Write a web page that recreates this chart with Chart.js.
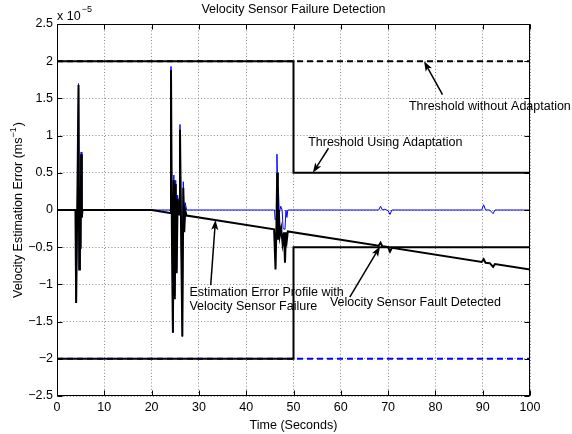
<!DOCTYPE html>
<html><head><meta charset="utf-8">
<script src="https://cdn.jsdelivr.net/npm/chart.js@4/dist/chart.umd.min.js"></script>
<style>html,body{margin:0;padding:0;background:#fff;}canvas{display:block;}</style>
</head><body>
<canvas id="c" width="572" height="434"></canvas>
<script>
const FONT = "'Liberation Sans', Arial, Helvetica, sans-serif";

// ---- data (values in units of 1e-5 m/s) ----
const xTicks = [0,10,20,30,40,50,60,70,80,90,100];
const yTicks = [-2.5,-2,-1.5,-1,-0.5,0,0.5,1,1.5,2,2.5];
const yTickLabels = ['\u22122.5','\u22122','\u22121.5','\u22121','\u22120.5','0','0.5','1','1.5','2','2.5'];

// estimation error profile (no failure) - blue
const timeNoFail = [0,3.9,4.05,4.3,4.55,4.7,4.85,5.0,5.1,5.25,5.4,
  23.9,24.1,24.3,24.5,24.7,24.9,25.1,25.3,25.5,25.8,26.0,26.3,26.5,26.7,26.9,27.1,27.4,
  46.0,46.1,46.4,46.5,46.7,46.8,47.0,47.3,47.6,47.8,48.2,48.4,48.6,48.8,
  68.0,68.4,68.8,69.3,70.0,70.4,70.8,
  89.8,90.2,90.6,91.5,92.2,92.6,100];
const errNoFail = [0,0,-1.25,0.1,1.7,-0.8,0.3,-0.52,0.78,-0.1,0,
  0,1.93,-0.3,-1.65,0.47,-1.15,0.4,-0.8,0.2,0,1.15,-0.6,-1.7,0.38,-0.25,0.1,0,
  0,-0.13,-0.13,0.75,0.1,0.3,-0.05,0.05,0,-0.25,-0.26,0,-0.1,0,
  0,0.05,0,0.01,-0.01,-0.06,0,
  0,0.07,0,0,-0.05,0,0];

// estimation error profile with velocity sensor failure - black
const timeFail = [0,3.9,4.05,4.3,4.55,4.7,4.85,5.0,5.1,5.25,5.4,
  20,23.9,24.1,24.3,24.5,24.7,24.9,25.1,25.3,25.5,25.8,26.0,26.3,26.5,26.7,26.9,27.1,27.4,
  45.9,46.2,46.4,46.55,46.7,46.9,47.1,47.4,47.7,48.0,48.2,48.4,48.6,48.8,
  68.0,68.4,68.8,69.3,70.0,70.4,70.8,
  89.8,90.2,90.6,91.5,92.2,92.6,100];
const errFail = [0,0,-1.25,0.1,1.68,-0.8,0.3,-0.52,0.75,-0.1,0,
  0,-0.039,1.88,-0.35,-1.65,0.4,-1.2,0.35,-0.85,0.15,-0.06,1.08,-0.65,-1.7,0.3,-0.3,0,-0.074,
  -0.259,-0.8,-0.2,0.5,-0.4,0,-0.35,-0.25,-0.45,-0.3,-0.71,-0.3,-0.4,-0.288,
  -0.48,-0.44,-0.49,-0.49,-0.5,-0.56,-0.508,
  -0.698,-0.66,-0.71,-0.715,-0.765,-0.726,-0.8];

// thresholds
const thrAdaptTime = [0,50,50,100];
const thrAdaptUpper = [2,2,0.5,0.5];
const thrAdaptLower = [-2,-2,-0.5,-0.5];
const thrFixedTime = [0,100];
const thrFixedUpper = [2,2];
const thrFixedLower = [-2,-2];

// annotations (data coordinates)
const annotations = [
  {lines:['Threshold without Adaptation'], text:[74.4,1.39], tail:[81.5,1.55], head:[77.6,2.0]},
  {lines:['Threshold Using Adaptation'], text:[53.1,0.91], tail:[57.4,0.83], head:[54.1,0.5]},
  {lines:['Estimation Error Profile with','Velocity Sensor Failure'], text:[28.0,-1.11], tail:[32.5,-1.01], head:[33.5,-0.135]},
  {lines:['Velocity Sensor Fault Detected'], text:[57.7,-1.245], tail:[61.9,-1.17], head:[68.3,-0.49]}
];

const pts = (xs, ys) => xs.map((x,i)=>({x:x, y:ys[i]}));
const lineDs = (xs, ys, color, width, dash) => ({
  data: pts(xs, ys), borderColor: color, borderWidth: width, borderDash: dash || [],
  pointRadius: 0, fill: false, tension: 0, borderJoinStyle: 'miter'
});

function arrow(ctx, x1, y1, x2, y2){
  const ang = Math.atan2(y2-y1, x2-x1), L = 10, W = 3.6;
  const c = Math.cos(ang), s = Math.sin(ang);
  ctx.beginPath(); ctx.moveTo(x1,y1); ctx.lineTo(x2-c*L*0.7, y2-s*L*0.7); ctx.stroke();
  const bx = x2-c*L, by = y2-s*L;
  ctx.beginPath();
  ctx.moveTo(x2,y2);
  ctx.lineTo(bx - s*W, by + c*W);
  ctx.lineTo(x2-c*L*0.75, y2-s*L*0.75);
  ctx.lineTo(bx + s*W, by - c*W);
  ctx.closePath(); ctx.fill();
}

const deco = {
  id: 'deco',
  afterDraw(chart){
    const {ctx, chartArea:a, scales:{x, y}} = chart;
    ctx.save();
    ctx.strokeStyle = '#000'; ctx.fillStyle = '#000'; ctx.lineWidth = 1;
    const L = Math.round(a.left)+0.5, R = Math.round(a.right)-0.5, T = Math.round(a.top)+0.5, B = Math.round(a.bottom)-0.5;
    ctx.strokeRect(L, T, R-L, B-T);
    ctx.beginPath();
    xTicks.forEach(v=>{const p = Math.round(x.getPixelForValue(v))+0.5;
      ctx.moveTo(p,B); ctx.lineTo(p,B-5); ctx.moveTo(p,T); ctx.lineTo(p,T+5);});
    yTicks.forEach(v=>{const p = Math.round(y.getPixelForValue(v))+0.5;
      ctx.moveTo(L,p); ctx.lineTo(L+5,p); ctx.moveTo(R,p); ctx.lineTo(R-5,p);});
    ctx.stroke();

    // annotations
    ctx.font = '12.5px ' + FONT; ctx.textBaseline = 'middle'; ctx.textAlign = 'left';
    ctx.lineWidth = 1.5;
    annotations.forEach(an=>{
      const tx = x.getPixelForValue(an.text[0]), ty = y.getPixelForValue(an.text[1]);
      an.lines.forEach((ln,i)=>ctx.fillText(ln, tx, ty + i*14));
      arrow(ctx, x.getPixelForValue(an.tail[0]), y.getPixelForValue(an.tail[1]),
                 x.getPixelForValue(an.head[0]), y.getPixelForValue(an.head[1]));
    });

    // title
    const cx = (a.left + a.right)/2;
    ctx.textAlign = 'center';
    ctx.fillText('Velocity Sensor Failure Detection', cx, 9.5);
    // x label
    ctx.fillText('Time (Seconds)', cx, 426);
    // exponent
    ctx.textAlign = 'left'; ctx.textBaseline = 'alphabetic';
    ctx.fillText('x 10', a.left, 19.5);
    const w10 = ctx.measureText('x 10').width;
    ctx.font = '9px ' + FONT;
    ctx.fillText('\u22125', a.left + w10 + 1, 11.5);

    // y label
    ctx.font = '12.5px ' + FONT;
    const main = 'Velocity Estimation Error (ms';
    const wMain = ctx.measureText(main).width, wClose = ctx.measureText(')').width;
    ctx.font = '9px ' + FONT;
    const wSup = ctx.measureText('\u22121').width;
    const total = wMain + wSup + 1 + wClose;
    ctx.translate(21.5, (a.top + a.bottom)/2);
    ctx.rotate(-Math.PI/2);
    let sx = -total/2;
    ctx.font = '12.5px ' + FONT;
    ctx.fillText(main, sx, 0); sx += wMain;
    ctx.font = '9px ' + FONT;
    ctx.fillText('\u22121', sx, -6); sx += wSup + 1;
    ctx.font = '12.5px ' + FONT;
    ctx.fillText(')', sx, 0);
    ctx.restore();
  }
};

new Chart(document.getElementById('c'), {
  type: 'line',
  data: {
    datasets: [
      lineDs(thrAdaptTime, thrAdaptUpper, '#000', 2),
      lineDs(thrAdaptTime, thrAdaptLower, '#000', 2),
      lineDs(timeFail, errFail, '#000', 2),
      lineDs(timeNoFail, errNoFail, '#0000ff', 1),
      lineDs(thrFixedTime, thrFixedUpper, '#000', 2, [6,4]),
      lineDs(thrFixedTime, thrFixedLower, '#0000ff', 2, [6,4])
    ]
  },
  options: {
    responsive: false, animation: false, events: [],
    layout: {padding: {left: 0, right: 42, top: 24, bottom: 0}},
    plugins: {legend: {display: false}, tooltip: {enabled: false}, title: {display: false}},
    scales: {
      x: {
        type: 'linear', min: 0, max: 100,
        afterBuildTicks: s => { s.ticks = xTicks.map(v=>({value:v})); },
        afterFit: s => { s.height = 38; },
        grid: {color: '#8a8a8a', lineWidth: 1, drawTicks: false},
        border: {display: false, dash: [1,2.2]},
        ticks: {color: '#000', padding: 4, maxRotation: 0, autoSkip: false,
                font: {family: FONT, size: 12.5}, callback: v => String(v)}
      },
      y: {
        type: 'linear', min: -2.5, max: 2.5,
        afterBuildTicks: s => { s.ticks = yTicks.map(v=>({value:v})); },
        afterFit: s => { s.width = 57; },
        grid: {color: '#8a8a8a', lineWidth: 1, drawTicks: false},
        border: {display: false, dash: [1,2.2]},
        ticks: {color: '#000', padding: 4, autoSkip: false,
                font: {family: FONT, size: 12.5},
                callback: v => { const i = yTicks.findIndex(t=>Math.abs(t-v)<1e-9); return i>=0 ? yTickLabels[i] : ''; }}
      }
    }
  },
  plugins: [deco]
});
</script>
</body></html>
